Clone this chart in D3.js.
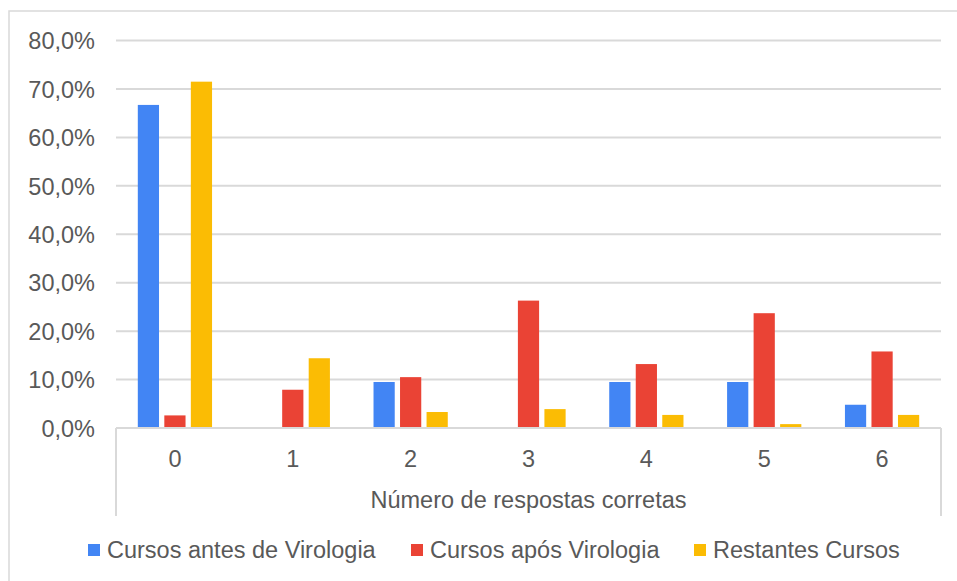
<!DOCTYPE html>
<html>
<head>
<meta charset="utf-8">
<script src="https://cdn.jsdelivr.net/npm/d3@7"></script>
<style>
  body { margin: 0; background: #fff; }
  text { font-family: "Liberation Sans", Arial, sans-serif; fill: #595959; }
</style>
</head>
<body>
<script>
// Data
const categories = ["0", "1", "2", "3", "4", "5", "6"];
const seriesNames = ["Cursos antes de Virologia", "Cursos após Virologia", "Restantes Cursos"];
const antesVirologia = [66.7, 0, 9.5, 0, 9.5, 9.5, 4.8];
const aposVirologia = [2.6, 7.9, 10.5, 26.3, 13.2, 23.7, 15.8];
const restantesCursos = [71.5, 14.4, 3.3, 3.9, 2.7, 0.8, 2.7];
const yTicks = [0, 10, 20, 30, 40, 50, 60, 70, 80];
const colors = ["#4285F4", "#EA4335", "#FBBC04"];

const allSeries = [antesVirologia, aposVirologia, restantesCursos];
const fontSize = "23.5px";

var width = 957, height = 581;
var svg = d3.select("body").append("svg")
    .attr("width", width)
    .attr("height", height);

// outer chart border
svg.append("rect")
    .attr("x", 9).attr("y", 11)
    .attr("width", 960).attr("height", 600)
    .attr("fill", "none")
    .attr("stroke", "#d9d9d9")
    .attr("stroke-width", 1.5);

var plotLeft = 116, plotRight = 941, plotTop = 40.5, plotBottom = 428;

var x0 = d3.scaleBand().domain(categories).range([plotLeft, plotRight]);
var groupW = x0.bandwidth() * 0.63;
var x1 = d3.scaleBand().domain(d3.range(seriesNames.length))
    .range([0, groupW]).paddingInner(0.2);
var y = d3.scaleLinear().domain([0, 80]).range([plotBottom, plotTop]);

// gridlines
svg.append("g").selectAll("line")
    .data(yTicks.filter(d => d > 0))
    .enter().append("line")
    .attr("x1", plotLeft).attr("x2", plotRight)
    .attr("y1", d => y(d)).attr("y2", d => y(d))
    .attr("stroke", "#d9d9d9").attr("stroke-width", 2);

// y axis labels
var yAxis = d3.axisLeft(y).tickValues(yTicks)
    .tickFormat(d => d.toFixed(1).replace(".", ",") + "%")
    .tickSize(0).tickPadding(0);
var gy = svg.append("g").attr("transform", "translate(95,0)").call(yAxis);
gy.select(".domain").remove();
gy.selectAll("text")
    .style("font-size", fontSize)
    .attr("dy", "0.35em");

// bars
var groups = svg.append("g").selectAll("g")
    .data(categories)
    .enter().append("g")
    .attr("transform", d => "translate(" + (x0(d) + (x0.bandwidth() - groupW) / 2) + ",0)");

groups.selectAll("rect")
    .data((c, ci) => allSeries.map((s, si) => ({ si: si, v: s[ci] })))
    .enter().append("rect")
    .attr("x", d => x1(d.si))
    .attr("width", x1.bandwidth())
    .attr("y", d => y(d.v))
    .attr("height", d => plotBottom - y(d.v))
    .attr("fill", d => colors[d.si]);

// category axis box (baseline + side lines)
var axisG = svg.append("g");
axisG.append("line")
    .attr("x1", plotLeft).attr("x2", plotRight)
    .attr("y1", plotBottom).attr("y2", plotBottom)
    .attr("stroke", "#d9d9d9").attr("stroke-width", 2);
[plotLeft, plotRight].forEach(function (xv) {
    axisG.append("line")
        .attr("x1", xv).attr("x2", xv)
        .attr("y1", plotBottom).attr("y2", 516)
        .attr("stroke", "#d9d9d9").attr("stroke-width", 2);
});

// category labels
svg.append("g").selectAll("text")
    .data(categories)
    .enter().append("text")
    .attr("x", d => x0(d) + x0.bandwidth() / 2)
    .attr("y", 467)
    .attr("text-anchor", "middle")
    .style("font-size", fontSize)
    .text(d => d);

// axis title
svg.append("text")
    .attr("x", (plotLeft + plotRight) / 2)
    .attr("y", 508)
    .attr("text-anchor", "middle")
    .style("font-size", fontSize)
    .text("Número de respostas corretas");

// legend
var legendX = [88, 411, 694];
var legend = svg.append("g").selectAll("g")
    .data(seriesNames)
    .enter().append("g")
    .attr("transform", (d, i) => "translate(" + legendX[i] + ",544)");
legend.append("rect")
    .attr("width", 12).attr("height", 12)
    .attr("fill", (d, i) => colors[i]);
legend.append("text")
    .attr("x", 19).attr("y", 14)
    .style("font-size", fontSize)
    .text(d => d);
</script>
</body>
</html>
